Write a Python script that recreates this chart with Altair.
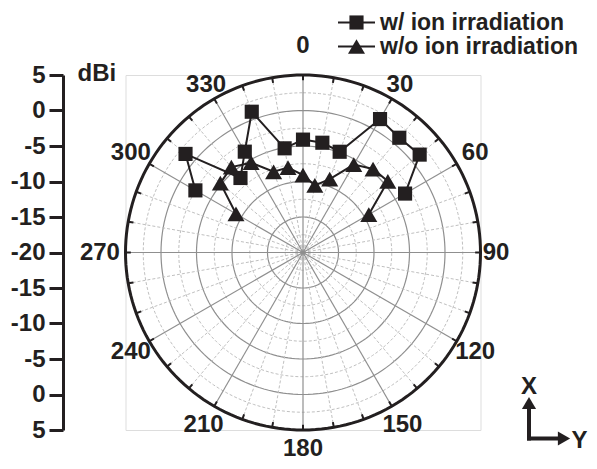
import altair as alt
import pandas as pd

# ---------------- data ----------------
angles = [300, 310, 320, 330, 340, 350, 0, 10, 20, 30, 40, 50, 60]
with_ion = [-2.5, 1.6, -6.3, -3.6, 1.1, -5.1, -4.1, -4.3, -4.9, 1.7, 1.1, 1.45, -3.4]
without_ion = [-9.1, -4.8, -4.3, -5.4, -7.9, -7.85, -9.1, -10.4, -9.0, -5.7, -4.65, -4.4, -9.3]
series_names = ["w/ ion irradiation", "w/o ion irradiation"]
angle_labels = list(range(0, 360, 30))
spoke_angles = list(range(0, 360, 10))
solid_rings = [-15, -10, -5, 0]
dashed_rings = [-17.5, -12.5, -7.5, -2.5, 2.5]
radial_ticks = [-25, -20, -15, -10, -5, 0, 5, 10, 15, 20, 25]
r_min, r_max = -20, 5

# ---------------- styling ----------------
FONT = "Liberation Sans"
FS = 24
INK = "#231f20"
GRID = "#8f8f8f"
GRID_D = "#c0c0c0"
W = H = 355
R = r_max - r_min

rows = []
for i, (a, v) in enumerate(zip(angles, with_ion)):
    rows.append({"idx": i, "angle": a, "dBi": v, "series": series_names[0]})
for i, (a, v) in enumerate(zip(angles, without_ion)):
    rows.append({"idx": i, "angle": a, "dBi": v, "series": series_names[1]})
df = pd.DataFrame(rows)

xscale = alt.Scale(domain=[-R, R], nice=False, zero=False)
yscale = alt.Scale(domain=[-R, R], nice=False, zero=False)
yaxis = alt.Axis(
    values=radial_ticks,
    labelExpr=f"'' + (abs(datum.value) + ({r_min}))",
    title=None, grid=False, offset=62.5,
    domainColor=INK, domainWidth=3, tickColor=INK, tickWidth=3, tickSize=14,
    labelFont=FONT, labelFontSize=FS, labelFontWeight="bold", labelColor=INK,
    labelPadding=4,
)


def X(f):
    return alt.X(f, type="quantitative", scale=xscale, axis=None)


def Y(f):
    return alt.Y(f, type="quantitative", scale=yscale, axis=yaxis)


one = alt.Data(values=[{"a": 1}])


def rings(values, color, width, dash=None):
    kw = dict(color=color, strokeWidth=width)
    if dash:
        kw["strokeDash"] = dash
    return (
        alt.Chart(pd.DataFrame({"ring": values}))
        .transform_calculate(deg="sequence(0, 362, 2)")
        .transform_flatten(["deg"])
        .transform_calculate(
            x=f"(datum.ring - ({r_min})) * sin(datum.deg * PI / 180)",
            y=f"(datum.ring - ({r_min})) * cos(datum.deg * PI / 180)",
        )
        .mark_line(**kw)
        .encode(x=X("x"), y=Y("y"), detail="ring:N", order="deg:Q")
    )


spokes_base = alt.Chart(pd.DataFrame({"angle": spoke_angles})).transform_calculate(
    x0="0", y0="0",
    x2=f"{R} * sin(datum.angle * PI / 180)",
    y2=f"{R} * cos(datum.angle * PI / 180)",
    xi=f"{R - 0.75} * sin(datum.angle * PI / 180)",
    yi=f"{R - 0.75} * cos(datum.angle * PI / 180)",
)
spokes_minor = spokes_base.transform_filter("datum.angle % 30 != 0").mark_rule(
    color=GRID_D, strokeWidth=1, strokeDash=[3, 2]
).encode(x=X("x0"), y=Y("y0"), x2="x2:Q", y2="y2:Q")
spokes_major = spokes_base.transform_filter("datum.angle % 30 == 0").mark_rule(
    color=GRID, strokeWidth=1.2
).encode(x=X("x0"), y=Y("y0"), x2="x2:Q", y2="y2:Q")
outer_ticks = spokes_base.mark_rule(color=INK, strokeWidth=2).encode(
    x=X("xi"), y=Y("yi"), x2="x2:Q", y2="y2:Q"
)

base = alt.Chart(df).transform_calculate(
    r=f"datum.dBi - ({r_min})",
    x="datum.r * sin(datum.angle * PI / 180)",
    y="datum.r * cos(datum.angle * PI / 180)",
)
lines = base.mark_line(color=INK, strokeWidth=2).encode(
    x=X("x"), y=Y("y"), detail="series:N", order="idx:Q"
)
shape_scale = alt.Scale(domain=series_names, range=["square", "triangle-up"])
size_scale = alt.Scale(domain=series_names, range=[200, 290])
points = base.mark_point(filled=True, opacity=1, color=INK).encode(
    x=X("x"), y=Y("y"),
    shape=alt.Shape("series:N", scale=shape_scale, legend=None),
    size=alt.Size("series:N", scale=size_scale, legend=None),
)

# label ring radius (in dB units from centre) with small per-position tweaks
labels = alt.Chart(pd.DataFrame({"angle": angle_labels})).transform_calculate(
    rad="28.0 + (datum.angle == 0 ? 1.1 : 0) + (datum.angle == 90 ? -0.8 : 0) + (datum.angle == 270 ? 0.6 : 0) + (datum.angle == 30 || datum.angle == 330 ? -0.7 : 0) + (datum.angle == 180 ? -0.35 : 0)",
).transform_calculate(
    x="datum.rad * sin(datum.angle * PI / 180)",
    y="datum.rad * cos(datum.angle * PI / 180)",
    t="'' + datum.angle",
).mark_text(
    font=FONT, fontSize=FS, fontWeight="bold", color=INK,
    align="center", baseline="middle",
).encode(x=X("x"), y=Y("y"), text="t:N")

dbi = alt.Chart(one).mark_text(
    text="dBi", font=FONT, fontSize=FS, fontWeight="bold", color=INK,
    align="left", baseline="middle",
).encode(x=alt.value(-48), y=alt.value(-1))


# ---------------- legend ----------------
def legend_item(name, shape, size, yy):
    ln = alt.Chart(one).mark_rule(color=INK, strokeWidth=2).encode(
        x=alt.value(212.5), x2=alt.value(249.5), y=alt.value(yy)
    )
    pt = alt.Chart(one).mark_point(
        filled=True, opacity=1, color=INK, shape=shape, size=size
    ).encode(x=alt.value(231), y=alt.value(yy))
    tx = alt.Chart(one).mark_text(
        text=name, font=FONT, fontSize=23, fontWeight="bold", color=INK,
        align="left", baseline="middle",
    ).encode(x=alt.value(254.5), y=alt.value(yy))
    return [ln, pt, tx]


legend_layers = legend_item(series_names[0], "square", 200, -52.5) + legend_item(
    series_names[1], "triangle-up", 290, -28.5
)

# ---------------- X / Y orientation arrows ----------------
arr = [
    alt.Chart(one).mark_rule(color=INK, strokeWidth=4).encode(
        x=alt.value(403.5), y=alt.value(365.5), y2=alt.value(332)
    ),
    alt.Chart(one).mark_rule(color=INK, strokeWidth=4).encode(
        x=alt.value(401.5), x2=alt.value(434), y=alt.value(363.5)
    ),
    alt.Chart(one).mark_point(filled=True, opacity=1, color=INK, shape="triangle-up", size=200).encode(
        x=alt.value(403.5), y=alt.value(328)
    ),
    alt.Chart(one).mark_point(filled=True, opacity=1, color=INK, shape="triangle-right", size=200).encode(
        x=alt.value(438.5), y=alt.value(363.5)
    ),
    alt.Chart(one).mark_text(text="X", font=FONT, fontSize=FS, fontWeight="bold", color=INK,
                             align="center", baseline="middle").encode(x=alt.value(403.5), y=alt.value(312)),
    alt.Chart(one).mark_text(text="Y", font=FONT, fontSize=FS, fontWeight="bold", color=INK,
                             align="center", baseline="middle").encode(x=alt.value(454), y=alt.value(366)),
]

chart = alt.layer(
    rings(dashed_rings, GRID_D, 1, [3, 2]),
    rings(solid_rings, GRID, 1.2),
    spokes_minor,
    spokes_major,
    rings([r_max], INK, 3),
    outer_ticks,
    lines,
    points,
    labels,
    dbi,
    *legend_layers,
    *arr,
).properties(
    width=W, height=H,
    autosize="none",
    padding={"left": 117.5, "top": 67, "right": 108.5, "bottom": 31},
).configure_view(stroke=None).configure(background="white")

chart.save("out.html", embed_options={"renderer": "svg", "actions": False})
